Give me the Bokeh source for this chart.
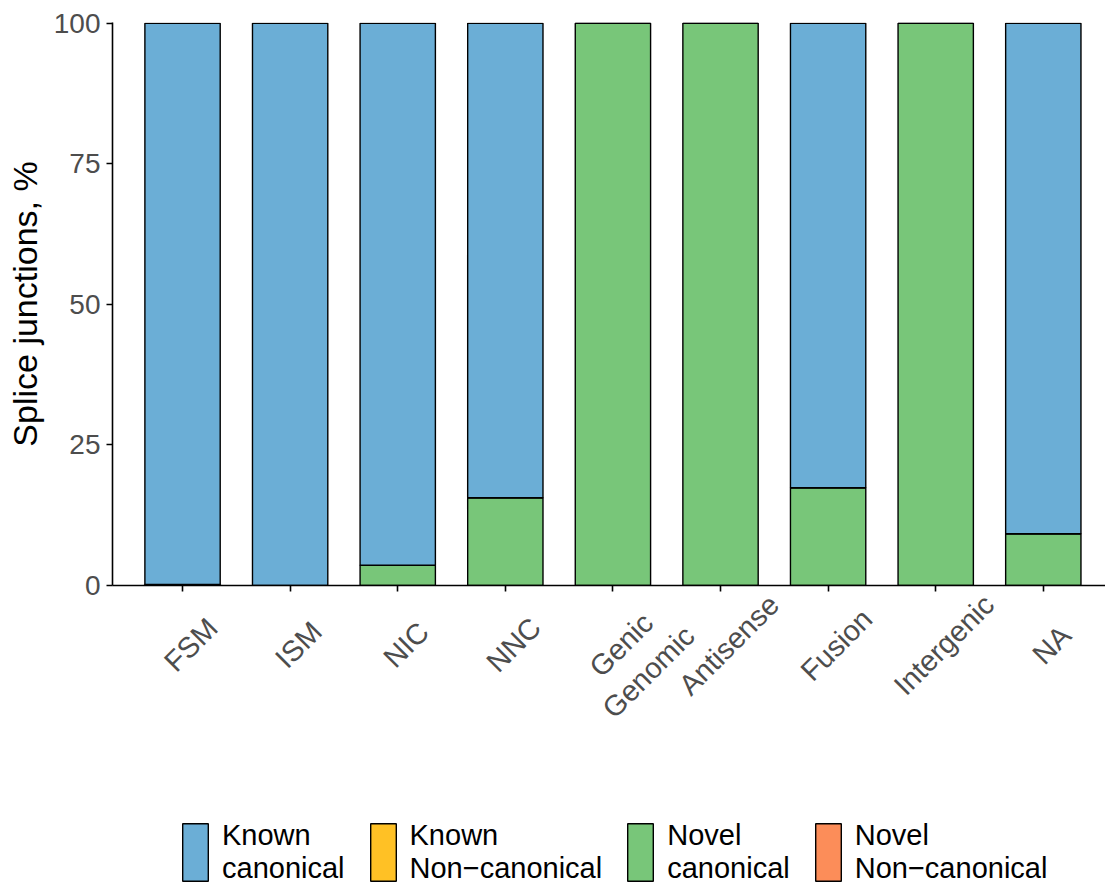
import math
from bokeh.plotting import figure
from bokeh.layouts import column
from bokeh.models import Legend, LegendItem, Range1d, ColumnDataSource
from bokeh.core.properties import value
from bokeh.embed import file_html
from bokeh.resources import INLINE

categories = ["FSM", "ISM", "NIC", "NNC", "Genic\nGenomic", "Antisense", "Fusion", "Intergenic", "NA"]
known_canonical = [99.8, 100.0, 96.4, 84.4, 0.0, 0.0, 82.6, 0.0, 90.8]
known_noncanonical = [0.0, 0.0, 0.0, 0.0, 0.0, 0.0, 0.0, 0.0, 0.0]
novel_canonical = [0.2, 0.0, 3.6, 15.6, 100.0, 100.0, 17.4, 100.0, 9.2]
novel_noncanonical = [0.0, 0.0, 0.0, 0.0, 0.0, 0.0, 0.0, 0.0, 0.0]
series_labels = ["Known\ncanonical", "Known\nNon\u2212canonical", "Novel\ncanonical", "Novel\nNon\u2212canonical"]
series_colors = ["#6BAED6", "#FFC125", "#78C679", "#FC8D59"]
y_ticks = [0, 25, 50, 75, 100]

FONT = "Liberation Sans"
MAIN_H = 595
STRIP_H = 883 - MAIN_H
LABEL_DROP = 38   # px from strip top to the label anchor

xs = list(range(1, len(categories) + 1))
source = ColumnDataSource(dict(
    x=xs,
    kc=known_canonical,
    knc=known_noncanonical,
    nc=novel_canonical,
    nnc=novel_noncanonical,
))

x_range = Range1d(0.349, 9.578)
p = figure(width=1105, height=MAIN_H, output_backend="svg", toolbar_location=None,
           x_range=x_range, y_range=Range1d(0, 100.15),
           min_border_left=112, min_border_top=22, min_border_right=0,
           min_border_bottom=10)

stack_order = ["nnc", "nc", "knc", "kc"]
stack_colors = [series_colors[3], series_colors[2], series_colors[1], series_colors[0]]
p.vbar_stack(stack_order, x="x", width=0.7, color=stack_colors, source=source,
             line_color="black", line_width=1.4)

p.xgrid.visible = False
p.ygrid.visible = False
p.outline_line_color = None

p.xaxis.ticker = xs
p.xaxis.major_label_overrides = {x: "" for x in xs}
p.xaxis.major_label_text_font_size = "0px"
p.xaxis.major_label_standoff = 0
p.yaxis.ticker = y_ticks
for ax in (p.xaxis, p.yaxis):
    ax.axis_line_color = "black"
    ax.axis_line_width = 1.6
    ax.major_tick_line_color = "black"
    ax.major_tick_line_width = 1.6
    ax.major_tick_out = 6
    ax.major_tick_in = 0
    ax.minor_tick_line_color = None
    ax.major_label_text_font = FONT
    ax.major_label_text_color = "#4D4D4D"
p.yaxis.major_label_text_font_size = "28px"
p.yaxis.major_label_standoff = 6
p.yaxis.axis_label = "Splice junctions, %"
p.yaxis.axis_label_text_font = FONT
p.yaxis.axis_label_text_font_size = "34px"
p.yaxis.axis_label_text_font_style = "normal"
p.yaxis.axis_label_text_color = "black"
p.yaxis.axis_label_standoff = 7

# strip below the plot: rotated category labels and the legend
lg = figure(width=1105, height=STRIP_H, output_backend="svg", toolbar_location=None,
            x_range=x_range, y_range=Range1d(-STRIP_H, 0), min_border=0,
            min_border_left=112, min_border_right=0)
lg.axis.visible = False
lg.grid.visible = False
lg.outline_line_color = None

lab_src = ColumnDataSource(dict(x=xs, y=[-LABEL_DROP] * len(xs), text=categories))
lg.text(x="x", y="y", text="text", source=lab_src, x_offset=-3, angle=math.pi / 4,
        text_align="center", text_baseline="top",
        text_font=value(FONT), text_font_size="29px", text_color="#4D4D4D")

items = []
for lab, col in zip(series_labels, series_colors):
    r = lg.vbar(x=[float("nan")], top=[float("nan")], width=0.1, fill_color=col,
                line_color="black", line_width=1.4)
    items.append(LegendItem(label=lab, renderers=[r]))
legend = Legend(items=items, orientation="horizontal", location=(67, -5),
                glyph_width=32, glyph_height=72, label_standoff=11, spacing=22,
                padding=0, margin=0, border_line_color=None, background_fill_alpha=0,
                label_text_font=FONT, label_text_font_size="29px", label_text_color="black",
                label_height=58, label_text_line_height=0.95)
lg.add_layout(legend)

layout = column(p, lg, spacing=0)
open("out.html", "w").write(file_html(layout, INLINE))
